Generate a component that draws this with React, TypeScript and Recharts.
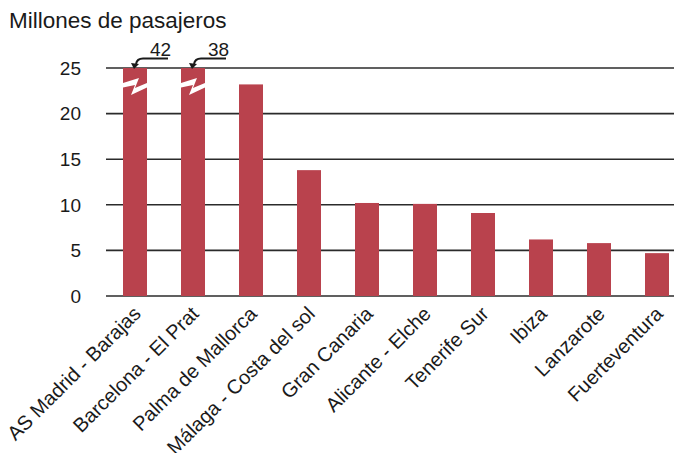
import React from "react";
import { BarChart, Bar, XAxis, YAxis, CartesianGrid } from "recharts";

const airports = [
  "AS Madrid - Barajas",
  "Barcelona - El Prat",
  "Palma de Mallorca",
  "Málaga - Costa del sol",
  "Gran Canaria",
  "Alicante - Elche",
  "Tenerife Sur",
  "Ibiza",
  "Lanzarote",
  "Fuerteventura",
];
const passengers = [42, 38, 23.2, 13.8, 10.2, 10.1, 9.1, 6.2, 5.8, 4.7];
const yTicks = [0, 5, 10, 15, 20, 25];
const Y_MAX = 25;
const title = "Millones de pasajeros";

const data = airports.map((name, i) => ({
  name,
  real: passengers[i],
  shown: Math.min(passengers[i], Y_MAX),
}));

const FONT = "'Liberation Sans', Arial, sans-serif";
const BAR_COLOR = "#b9424d";
const INK = "#1a1a1a";

const BrokenBar = (props: any) => {
  const { x, y, width, height, payload, fill } = props;
  const real = payload?.real ?? 0;
  const broken = real > Y_MAX;
  const s = width / 24;
  const zig = [
    [0, 15],
    [16, 10],
    [12, 20],
    [24, 15],
    [24, 19.5],
    [8, 27],
    [12, 17],
    [0, 19.5],
  ]
    .map(([dx, dy]) => `${x + dx * s},${y + dy}`)
    .join(" ");
  const cx = x + width / 2;
  const ly = y - 9.5;
  return (
    <g>
      <rect x={x} y={y} width={width} height={height} fill={fill} />
      {broken && (
        <g>
          <polygon points={zig} fill="#ffffff" />
          <path
            d={`M ${cx + 33} ${ly} L ${cx + 8} ${ly} Q ${cx + 2} ${ly} ${cx + 1} ${y - 4}`}
            stroke={INK}
            strokeWidth={2}
            fill="none"
          />
          <polygon
            points={`${cx - 1},${y + 1} ${cx - 4},${y - 5} ${cx + 4},${y - 4}`}
            fill={INK}
          />
          <text
            x={cx + 15}
            y={y - 12}
            fontSize={19}
            fontFamily={FONT}
            fill={INK}
          >
            {real}
          </text>
        </g>
      )}
    </g>
  );
};

export default function App() {
  return (
    <div style={{ position: "relative", width: 674, height: 445, overflow: "hidden" }}>
      <div
        style={{
          position: "absolute",
          left: 1,
          top: 0,
          fontFamily: FONT,
          fontSize: 22.5,
          lineHeight: "26px",
          color: INK,
          whiteSpace: "nowrap",
        }}
      >
        {title}
      </div>
      <BarChart
        width={678}
        height={445}
        data={data}
        margin={{ top: 60, right: 0, bottom: 0, left: 0 }}
        barSize={24}
      >
        <CartesianGrid
          horizontal={true}
          vertical={false}
          stroke="#2b2b2b"
          strokeWidth={1.6}
        />
        <XAxis
          dataKey="name"
          interval={0}
          axisLine={false}
          tickLine={false}
          height={157}
          angle={-45}
          textAnchor="end"
          tickMargin={3}
          tick={{ fontSize: 20, fontFamily: FONT, fill: INK, dx: -3 }}
        />
        <YAxis
          domain={[0, Y_MAX]}
          ticks={yTicks}
          width={98}
          axisLine={false}
          tickLine={false}
          tickMargin={19}
          tick={{ fontSize: 19, fontFamily: FONT, fill: INK }}
        />
        <Bar
          dataKey="shown"
          fill={BAR_COLOR}
          isAnimationActive={false}
          shape={<BrokenBar />}
        />
      </BarChart>
    </div>
  );
}
